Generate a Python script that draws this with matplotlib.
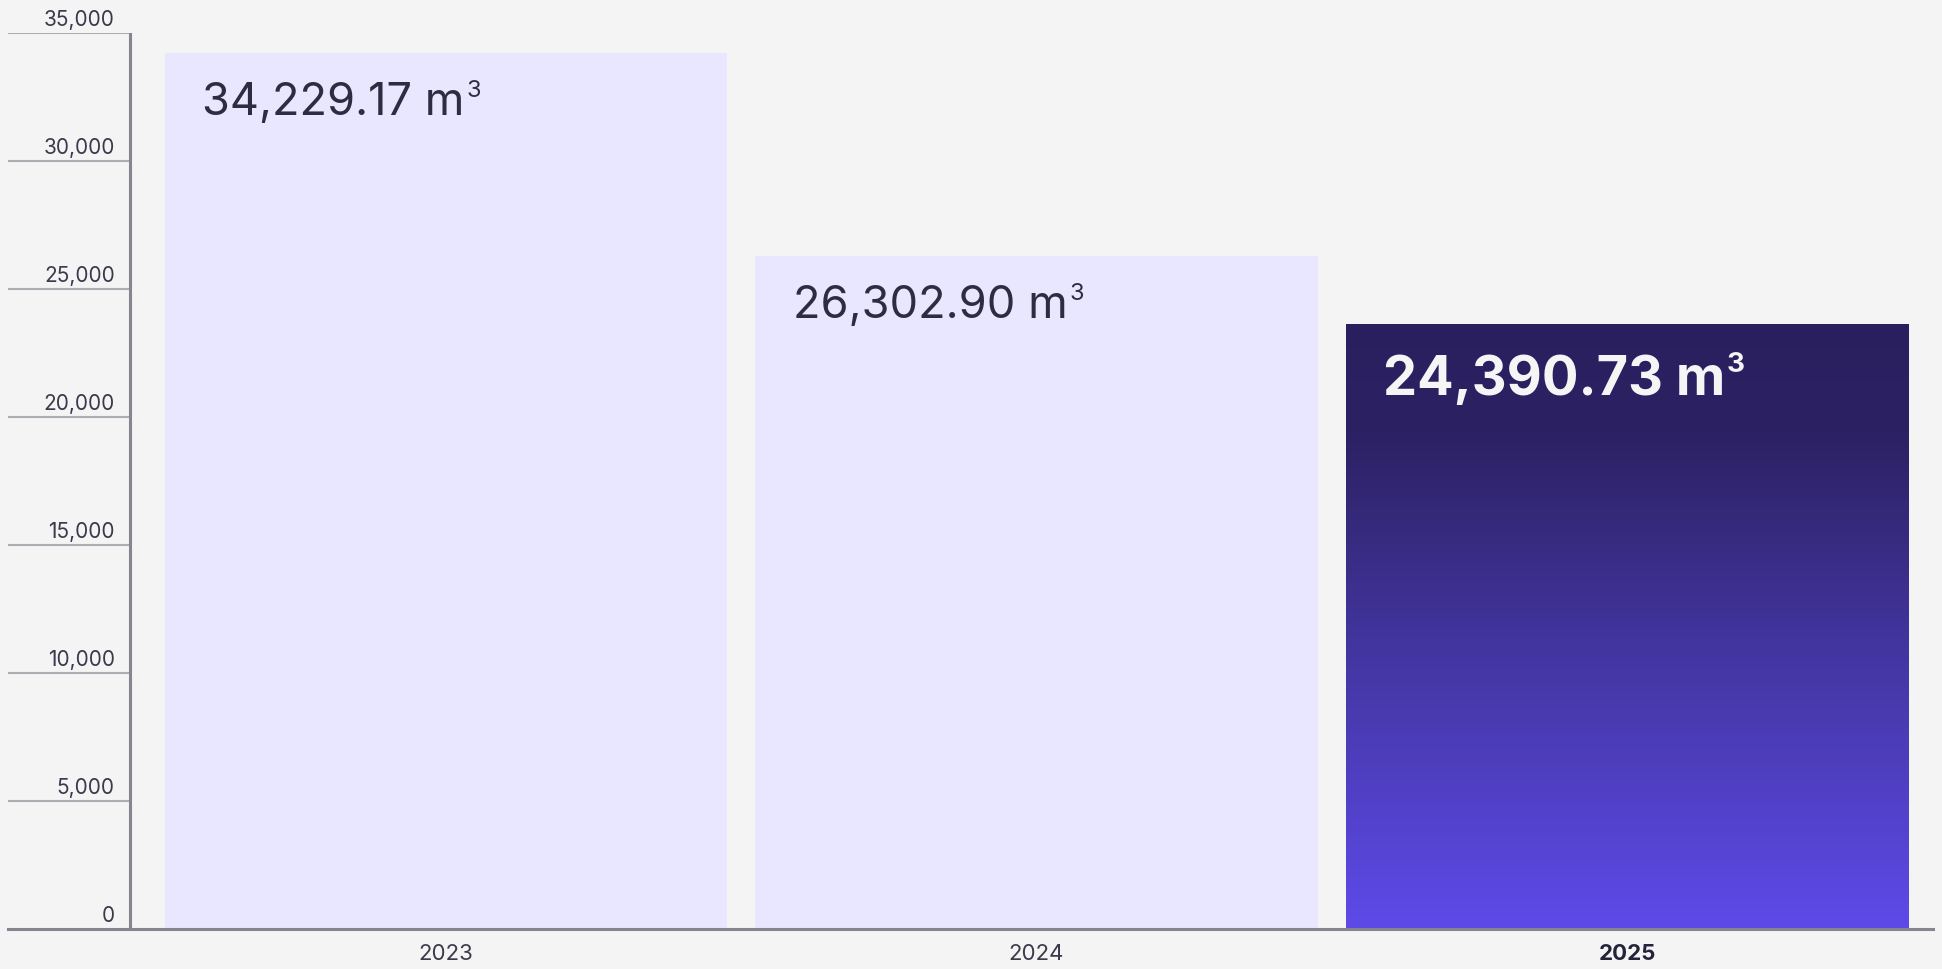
import matplotlib.pyplot as plt
import numpy as np
from matplotlib.colors import LinearSegmentedColormap

# data
years = ['2023', '2024', '2025']
# bar heights as drawn in the picture (the 2025 bar is drawn a bit below its label)
volumes = [34229.17, 26302.90, 23630]
value_labels = ['34,229.17', '26,302.90', '24,390.73']
unit = 'm'
y_ticks = [0, 5000, 10000, 15000, 20000, 25000, 30000, 35000]
y_tick_labels = ['0', '5,000', '10,000', '15,000', '20,000', '25,000', '30,000', '35,000']

BG = '#f4f4f4'
LIGHT_BAR = '#e9e6ff'
TEXT = '#2e2c42'
AXIS = '#86848f'
GRID = '#aeadb3'

plt.rcParams['font.family'] = ['Inter', 'DejaVu Sans']

fig = plt.figure(figsize=(19.42, 9.69), dpi=100, facecolor=BG)
W, H = 1942, 969
# axes spans the label gutter on the left as well (x from 8px), axis line drawn at 130px
ax = fig.add_axes([8 / W, 40 / H, (1933 - 8) / W, (929 - 33) / H])
ax.set_facecolor(BG)

x = np.arange(len(years))
bar_w = 0.952
axis_x = -0.535
ax.set_xlim(axis_x - 122 / 590.5, 2.518)
ax.set_ylim(0, 35000)

bars = ax.bar(x, volumes, width=bar_w, color=LIGHT_BAR, zorder=2)

# gradient fill for the highlighted (last) bar
grad = LinearSegmentedColormap.from_list(
    'grad', [(0.0, '#5e4ae9'), (0.43, '#4537a5'), (0.82, '#2c2163'), (1.0, '#2a1f5e')])
last = bars[-1]
last.set_facecolor('none')
x0 = last.get_x()
x1 = x0 + last.get_width()
img = ax.imshow(np.linspace(0, 1, 256).reshape(-1, 1), cmap=grad, origin='lower',
                extent=(x0, x1, 0, volumes[-1]), aspect='auto', zorder=2)
img.set_clip_path(last)

# value labels inside bars, with a small raised "3" after the unit
for i, (b, lab) in enumerate(zip(bars, value_labels)):
    highlight = i == len(bars) - 1
    if highlight:
        size, sup_size, weight, col, dy = 39, 20, 'bold', '#f5f5f5', -51
    else:
        size, sup_size, weight, col, dy = 32.5, 17, 'normal', TEXT, -45
    t = ax.annotate(lab + ' ' + unit, (b.get_x(), b.get_height()), xytext=(27, dy),
                    textcoords='offset points', ha='left', va='baseline',
                    fontsize=size, fontweight=weight, color=col, zorder=3)
    ax.annotate('3', xy=(1, 1), xycoords=t, xytext=(1, 0.05 * size),
                textcoords='offset points', ha='left', va='top',
                fontsize=sup_size, fontweight=weight, color=col, zorder=3)

# y axis line, tick stubs and labels
ax.axvline(axis_x, color=AXIS, lw=2.2, zorder=4)
ax.hlines(y_ticks[1:], ax.get_xlim()[0], axis_x, color=GRID, lw=1.5, zorder=1)
for v, lab in zip(y_ticks, y_tick_labels):
    ax.annotate(lab, (axis_x, v), xytext=(-11, 5), textcoords='offset points',
                ha='right', va='baseline', fontsize=15, color='#3b3a4a')

for s in ['top', 'right', 'left']:
    ax.spines[s].set_visible(False)
ax.spines['bottom'].set_color(AXIS)
ax.spines['bottom'].set_linewidth(2.2)
ax.spines['bottom'].set_zorder(5)

ax.set_yticks([])
ax.set_xticks(x)
ax.set_xticklabels(years, fontsize=16, color='#3b3a4a')
ax.tick_params(axis='x', length=0, pad=11)
tl = ax.get_xticklabels()
tl[-1].set_fontweight('bold')
tl[-1].set_color('#24233a')

fig.savefig('out.png', dpi=100, facecolor=BG)
